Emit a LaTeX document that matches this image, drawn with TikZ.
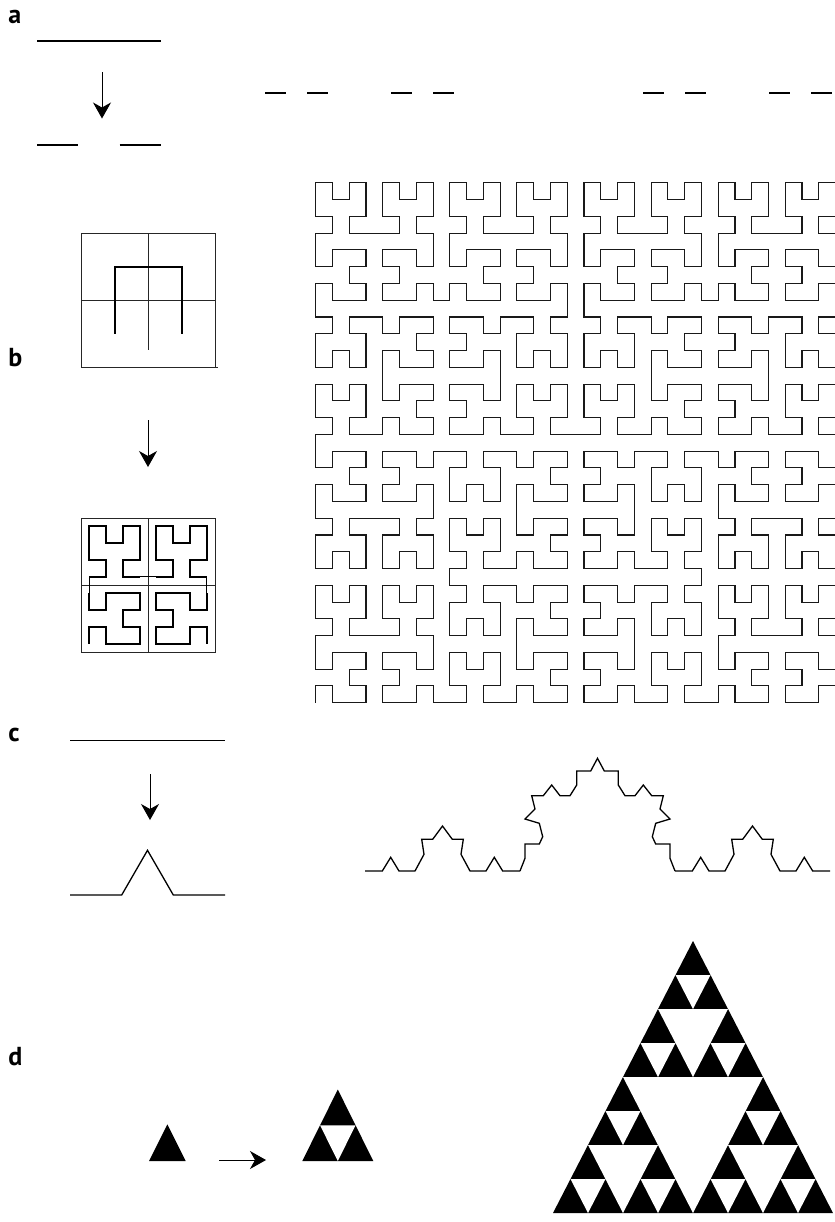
\documentclass[tikz,border=0pt]{standalone}
\usepackage{fontspec}
\setsansfont{PT Sans}
\usetikzlibrary{arrows.meta,lindenmayersystems}
\pgfdeclarelindenmayersystem{Hilbert}{\rule{L -> +RF-LFL-FR+}\rule{R -> -LF+RFR+FL-}}
\newcommand\sholes[4]{\fill[white] (#1+#3/4,#2-#4/2) -- (#1+3*#3/4,#2-#4/2) -- (#1+#3/2,#2) -- cycle;}
\newcommand\kochthird{(0,0) -- (17.3,0) -- (25.7,-13.7) -- (34,0) -- (50,0) -- (59,-16.7) -- (56.7,-31.7) -- (67.7,-31.7) -- (77.5,-45) -- (87.3,-31.7) -- (98.3,-31.7) -- (96,-16.7) -- (105,0) -- (121,0) -- (129.3,-13.7) -- (137.7,0) -- (155,0)}
\tikzset{
  lbl/.style={font=\fontsize{13}{15}\selectfont\sffamily\bfseries, inner sep=0pt, anchor=base west},
  thk/.style={line width=1pt},
  med/.style={line width=0.65pt},
  thn/.style={line width=0.5pt},
  gridln/.style={line width=0.45pt, black!85},
  arr/.style={line width=0.5pt, -{Stealth[length=8pt,width=9pt,inset=2.5pt]}},
}
\begin{document}
\begin{tikzpicture}[x=0.5pt,y=-0.5pt]
\useasboundingbox (0,0) rectangle (835,1222);
% labels
\node[lbl] (la) at (8,23) {a};
\node[lbl] (lb) at (8,366) {b};
\node[lbl] (lc) at (8,741) {c};
\node[lbl] (ld) at (8,1065) {d};

% ---------- panel a ----------
\coordinate (a1L) at (37,40.5); \coordinate (a1R) at (161,40.5);
\draw[thk] (a1L) -- (a1R);
\coordinate (aAs) at (102,72); \coordinate (aAe) at (102,118.5);
\draw[arr] (aAs) -- (aAe);
\coordinate (a2a) at (37,145); \coordinate (a2b) at (78.3,145);
\coordinate (a2c) at (119.7,145); \coordinate (a2d) at (161,145);
\draw[thk] (a2a) -- (a2b) (a2c) -- (a2d);
\foreach \p in {0,2,6,8,18,20,24,26}{
  \draw[thk] (265+21*\p,93) -- (286+21*\p,93);
}

% ---------- panel b ----------
\draw[gridln] (81,367) -- (81,233) -- (215,233) -- (215,367);
\draw[gridln] (81,367) -- (218,367);
\draw[gridln] (81,300) -- (215,300);
\draw[gridln] (148,233) -- (148,350);
\draw[thk] (114.5,333.5) -- (114.5,266.5) -- (181.5,266.5) -- (181.5,333.5);
\coordinate (bAs) at (148,420); \coordinate (bAe) at (148,467);
\draw[arr] (bAs) -- (bAe);
\draw[gridln] (81,518) rectangle (215,652);
\draw[gridln] (81,585.5) -- (215,585.5) (148,518) -- (148,652);
\begin{scope}[shift={(89.375,526.375)}, x=8.375pt, y=-8.375pt]
  \draw[thk] (0,7) -- (0,6) -- (1,6) -- (1,7) -- (2,7) -- (3,7) -- (3,6) -- (2,6) -- (2,5) -- (3,5) -- (3,4) -- (2,4) -- (1,4) -- (1,5) -- (0,5) -- (0,4);
  \draw[thk] (0,3) -- (1,3) -- (1,2) -- (0,2) -- (0,1) -- (0,0) -- (1,0) -- (1,1) -- (2,1) -- (2,0) -- (3,0) -- (3,1) -- (3,2) -- (2,2) -- (2,3) -- (3,3);
  \draw[thk] (4,3) -- (5,3) -- (5,2) -- (4,2) -- (4,1) -- (4,0) -- (5,0) -- (5,1) -- (6,1) -- (6,0) -- (7,0) -- (7,1) -- (7,2) -- (6,2) -- (6,3) -- (7,3);
  \draw[thk] (7,4) -- (7,5) -- (6,5) -- (6,4) -- (5,4) -- (4,4) -- (4,5) -- (5,5) -- (5,6) -- (4,6) -- (4,7) -- (5,7) -- (6,7) -- (6,6) -- (7,6) -- (7,7);
  \draw[thn] (0,4) -- (0,3) (3,3) -- (4,3) (7,3) -- (7,4);
\end{scope}
\coordinate (hstart) at (315.7,702.7);
\begin{scope}[shift={(hstart)}]
\draw[line width=0.55pt, black!90, line join=miter]
  [lindenmayer system={Hilbert, axiom=L, order=5, step=8.385pt, angle=90}]
  lindenmayer system;
\end{scope}

% ---------- panel c ----------
\coordinate (c1L) at (70,740.7); \coordinate (c1R) at (225,740.7);
\draw[med] (c1L) -- (c1R);
\coordinate (cAs) at (150,774); \coordinate (cAe) at (150,820);
\draw[arr] (cAs) -- (cAe);
\draw[med] (70,895) -- (121.7,895) -- (147.5,850.3) -- (173.3,895) -- (225,895);
\begin{scope}[shift={(365,871)}]
  \draw[med] \kochthird;
\end{scope}
\begin{scope}[shift={(675,871)}]
  \draw[med] \kochthird;
\end{scope}
\draw[med] (520,871) -- (525,858.3) -- (525,844) -- (539.3,844) -- (542.7,836.7) -- (539.3,823.3) -- (525,819) -- (535,809) -- (531.7,795.7) -- (543.3,795.7) -- (551.7,785) -- (560,795.7) -- (570,795.7) -- (576.7,785) -- (576.7,771) -- (590.7,771) -- (597.5,758.3)
  -- (604.3,771) -- (618.3,771) -- (618.3,785) -- (625,795.7) -- (635,795.7) -- (643.3,785) -- (651.7,795.7) -- (663.3,795.7) -- (660,809) -- (670,819) -- (655.7,823.3) -- (652.3,836.7) -- (655.7,844) -- (670,844) -- (670,858.3) -- (675,871);

% ---------- panel d ----------
\fill (149,1161) -- (185.7,1161) -- (167.35,1124.3) -- cycle;
\coordinate (dAs) at (219.3,1160); \coordinate (dAe) at (266,1160);
\draw[arr] (dAs) -- (dAe);
\fill (302.3,1161) -- (373.3,1161) -- (337.8,1089.5) -- cycle;
\sholes{302.3}{1161}{71}{71.5}
\fill (553,1213) -- (833,1213) -- (693,941) -- cycle;
\sholes{553}{1213}{280}{272}
\foreach \dx/\dy in {0/0,0.5/0,0.25/0.5}{
  \sholes{553+280*\dx}{1213-272*\dy}{140}{136}
  \foreach \ex/\ey in {0/0,0.5/0,0.25/0.5}{
    \sholes{553+280*\dx+140*\ex}{1213-272*\dy-136*\ey}{70}{68}
  }
}
\end{tikzpicture}
\end{document}
